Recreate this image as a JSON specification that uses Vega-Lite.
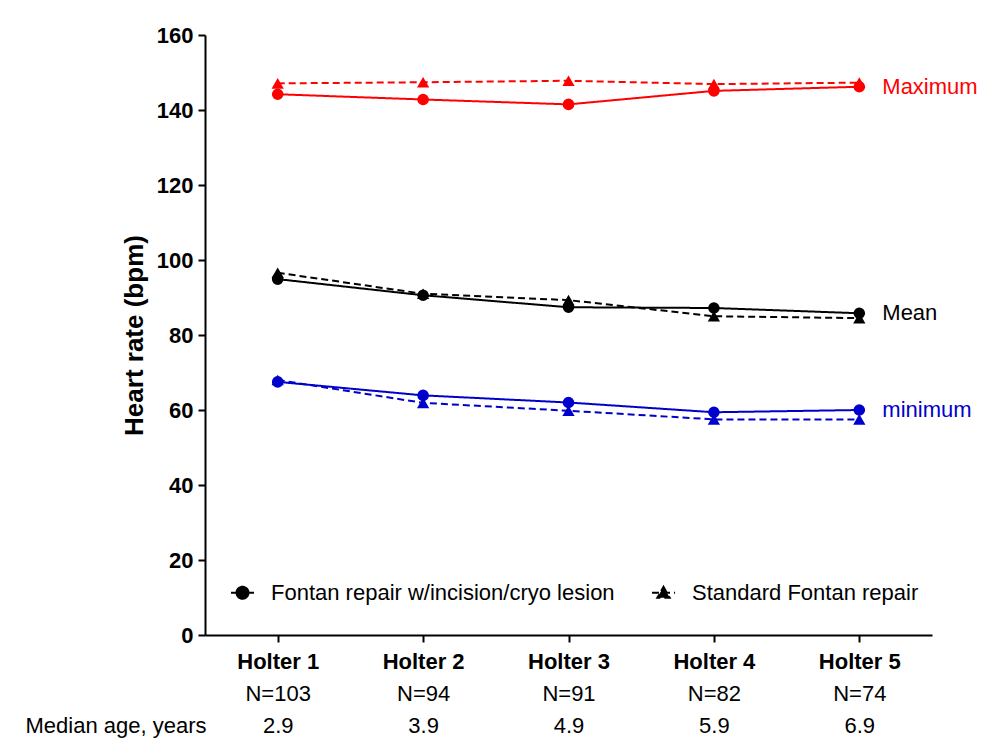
{
  "$schema": "https://vega.github.io/schema/vega-lite/v6.json",
  "width": 727,
  "height": 600,
  "autosize": {"type": "none"},
  "padding": {"left": 205, "top": 35, "right": 50, "bottom": 118},
  "background": "white",
  "config": {
    "view": {"stroke": null},
    "font": "Liberation Sans",
    "axis": {"grid": false, "domainColor": "black", "tickColor": "black", "labelColor": "black", "titleColor": "black", "labelFont": "Liberation Sans", "titleFont": "Liberation Sans"}
  },
  "datasets": {
    "hr": [
      {"holter": "Holter 1", "repair": "Fontan repair w/incision/cryo lesion", "level": "Maximum", "hr": 144.2},
      {"holter": "Holter 2", "repair": "Fontan repair w/incision/cryo lesion", "level": "Maximum", "hr": 142.8},
      {"holter": "Holter 3", "repair": "Fontan repair w/incision/cryo lesion", "level": "Maximum", "hr": 141.5},
      {"holter": "Holter 4", "repair": "Fontan repair w/incision/cryo lesion", "level": "Maximum", "hr": 145.1},
      {"holter": "Holter 5", "repair": "Fontan repair w/incision/cryo lesion", "level": "Maximum", "hr": 146.2},
      {"holter": "Holter 1", "repair": "Standard Fontan repair", "level": "Maximum", "hr": 147.1},
      {"holter": "Holter 2", "repair": "Standard Fontan repair", "level": "Maximum", "hr": 147.4},
      {"holter": "Holter 3", "repair": "Standard Fontan repair", "level": "Maximum", "hr": 147.8},
      {"holter": "Holter 4", "repair": "Standard Fontan repair", "level": "Maximum", "hr": 146.9},
      {"holter": "Holter 5", "repair": "Standard Fontan repair", "level": "Maximum", "hr": 147.3},
      {"holter": "Holter 1", "repair": "Fontan repair w/incision/cryo lesion", "level": "Mean", "hr": 94.9},
      {"holter": "Holter 2", "repair": "Fontan repair w/incision/cryo lesion", "level": "Mean", "hr": 90.6},
      {"holter": "Holter 3", "repair": "Fontan repair w/incision/cryo lesion", "level": "Mean", "hr": 87.4},
      {"holter": "Holter 4", "repair": "Fontan repair w/incision/cryo lesion", "level": "Mean", "hr": 87.2},
      {"holter": "Holter 5", "repair": "Fontan repair w/incision/cryo lesion", "level": "Mean", "hr": 85.8},
      {"holter": "Holter 1", "repair": "Standard Fontan repair", "level": "Mean", "hr": 96.6},
      {"holter": "Holter 2", "repair": "Standard Fontan repair", "level": "Mean", "hr": 91.0},
      {"holter": "Holter 3", "repair": "Standard Fontan repair", "level": "Mean", "hr": 89.3},
      {"holter": "Holter 4", "repair": "Standard Fontan repair", "level": "Mean", "hr": 85.0},
      {"holter": "Holter 5", "repair": "Standard Fontan repair", "level": "Mean", "hr": 84.5},
      {"holter": "Holter 1", "repair": "Fontan repair w/incision/cryo lesion", "level": "minimum", "hr": 67.5},
      {"holter": "Holter 2", "repair": "Fontan repair w/incision/cryo lesion", "level": "minimum", "hr": 63.9},
      {"holter": "Holter 3", "repair": "Fontan repair w/incision/cryo lesion", "level": "minimum", "hr": 62.0},
      {"holter": "Holter 4", "repair": "Fontan repair w/incision/cryo lesion", "level": "minimum", "hr": 59.4},
      {"holter": "Holter 5", "repair": "Fontan repair w/incision/cryo lesion", "level": "minimum", "hr": 60.0},
      {"holter": "Holter 1", "repair": "Standard Fontan repair", "level": "minimum", "hr": 68.0},
      {"holter": "Holter 2", "repair": "Standard Fontan repair", "level": "minimum", "hr": 61.9},
      {"holter": "Holter 3", "repair": "Standard Fontan repair", "level": "minimum", "hr": 59.8},
      {"holter": "Holter 4", "repair": "Standard Fontan repair", "level": "minimum", "hr": 57.5},
      {"holter": "Holter 5", "repair": "Standard Fontan repair", "level": "minimum", "hr": 57.5}
    ],
    "visits": [
      {"idx": 1, "holter": "Holter 1", "n": "N=103", "age": "2.9"},
      {"idx": 2, "holter": "Holter 2", "n": "N=94", "age": "3.9"},
      {"idx": 3, "holter": "Holter 3", "n": "N=91", "age": "4.9"},
      {"idx": 4, "holter": "Holter 4", "n": "N=82", "age": "5.9"},
      {"idx": 5, "holter": "Holter 5", "n": "N=74", "age": "6.9"}
    ]
  },
  "layer": [
    {
      "data": {"name": "hr"},
      "encoding": {
        "x": {
          "field": "holter", "type": "ordinal", "sort": null,
          "scale": {"type": "point", "padding": 0.5},
          "axis": {"title": null, "labelAngle": 0, "labelFontSize": 22, "labelFontWeight": "bold", "tickSize": 7, "tickWidth": 2, "domainWidth": 2, "labelPadding": 9, "labelBaseline": "top"}
        },
        "y": {
          "field": "hr", "type": "quantitative",
          "scale": {"domain": [0, 160], "nice": false},
          "axis": {"values": [0, 20, 40, 60, 80, 100, 120, 140, 160], "title": "Heart rate (bpm)", "titleFontSize": 26, "titleFontWeight": "bold", "titlePadding": 9, "labelFontSize": 22, "labelFontWeight": "bold", "tickSize": 7, "tickWidth": 2, "domainWidth": 2, "labelPadding": 5}
        },
        "color": {
          "field": "level", "type": "nominal",
          "scale": {"domain": ["Maximum", "Mean", "minimum"], "range": ["#ff0000", "#000000", "#0000cc"]},
          "legend": null
        }
      },
      "layer": [
        {
          "mark": {"type": "line", "strokeWidth": 2},
          "encoding": {
            "detail": {"field": "repair", "type": "nominal"},
            "strokeDash": {
              "field": "repair", "type": "nominal",
              "scale": {"domain": ["Fontan repair w/incision/cryo lesion", "Standard Fontan repair"], "range": [[1, 0], [7, 4]]},
              "legend": {
                "title": null, "orient": "none", "direction": "horizontal",
                "legendX": 25, "legendY": 545, "padding": 0,
                "labelFontSize": 22, "labelColor": "black", "labelFont": "Liberation Sans", "labelLimit": 0,
                "labelOffset": 16, "columnPadding": 33,
                "symbolSize": 529, "symbolStrokeWidth": 2,
                "symbolStrokeColor": "black", "symbolFillColor": "black",
                "encode": {
                  "symbols": {
                    "update": {
                      "shape": {"signal": "datum.value === 'Standard Fontan repair' ? 'M-1,0H1M0,-0.52L0.54,0.44L-0.54,0.44Z' : 'M-1,0H1M0.52,0A0.52,0.52,0,1,1,-0.52,0A0.52,0.52,0,1,1,0.52,0Z'"},
                      "fill": {"value": "black"},
                      "stroke": {"value": "black"},
                      "strokeWidth": {"value": 2},
                      "opacity": {"value": 1}
                    }
                  }
                }
              }
            }
          }
        },
        {
          "transform": [{"filter": "datum.repair === 'Fontan repair w/incision/cryo lesion'"}],
          "mark": {"type": "point", "filled": true, "size": 135, "opacity": 1, "shape": "circle"}
        },
        {
          "transform": [{"filter": "datum.repair === 'Standard Fontan repair'"}],
          "mark": {"type": "point", "filled": true, "size": 150, "opacity": 1, "shape": "triangle-up"}
        },
        {
          "transform": [
            {"filter": "datum.holter === 'Holter 5' && datum.repair === 'Fontan repair w/incision/cryo lesion'"}
          ],
          "mark": {"type": "text", "align": "left", "baseline": "middle", "dx": 23, "fontSize": 22, "font": "Liberation Sans"},
          "encoding": {
            "text": {"field": "level", "type": "nominal"}
          }
        }
      ]
    },
    {
      "data": {"name": "visits"},
      "mark": {"type": "point", "opacity": 0},
      "encoding": {
        "x": {
          "field": "n", "type": "ordinal",
          "sort": {"field": "idx", "op": "min"},
          "scale": {"type": "point", "padding": 0.5},
          "axis": {"orient": "bottom", "title": null, "domain": false, "ticks": false, "tickSize": 0, "labelAngle": 0, "labelFontSize": 22, "labelFontWeight": "normal", "labelPadding": 48, "labelBaseline": "top"}
        }
      }
    },
    {
      "data": {"name": "visits"},
      "mark": {"type": "point", "opacity": 0},
      "encoding": {
        "x": {
          "field": "age", "type": "ordinal",
          "sort": {"field": "idx", "op": "min"},
          "scale": {"type": "point", "padding": 0.5},
          "axis": {"orient": "bottom", "title": "Median age, years", "titleFontSize": 22, "titleFontWeight": "normal", "titleAngle": 0, "titleAlign": "left", "titleAnchor": null, "titleBaseline": "top", "titleX": -180, "titleY": 80, "domain": false, "ticks": false, "tickSize": 0, "labelAngle": 0, "labelFontSize": 22, "labelFontWeight": "normal", "labelPadding": 80, "labelBaseline": "top"}
        }
      }
    }
  ],
  "resolve": {"scale": {"x": "independent"}, "axis": {"x": "independent"}}
}
